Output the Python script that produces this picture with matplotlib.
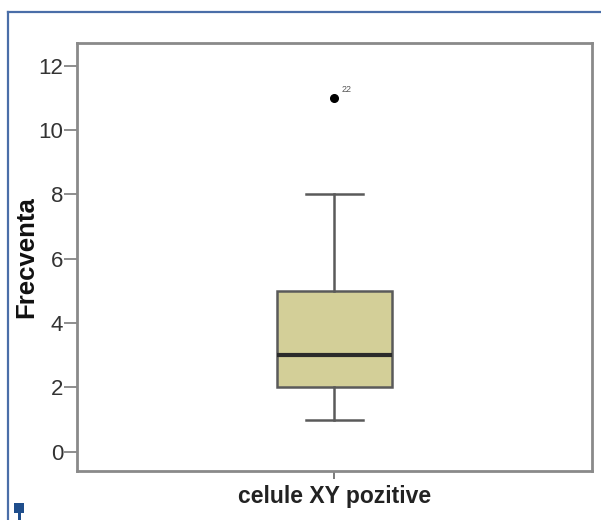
import matplotlib
matplotlib.use("Agg")
import matplotlib.pyplot as plt
from matplotlib.lines import Line2D
from matplotlib.patches import Rectangle

plt.rcParams['font.family'] = ['Liberation Sans', 'DejaVu Sans']

# box plot summary
category = "celule XY pozitive"
q1, median, q3 = 2, 3, 5
whisker_low, whisker_high = 1, 8
outliers = [11]
outlier_ids = ["22"]
y_ticks = [0, 2, 4, 6, 8, 10, 12]

stats = [dict(med=median, q1=q1, q3=q3, whislo=whisker_low,
              whishi=whisker_high, fliers=outliers, label=category)]

fig = plt.figure(figsize=(6.01, 5.2), dpi=100)
ax = fig.add_axes([0.128, 0.094, 0.857, 0.823])

gray = '#7a7a7a'
ax.bxp(stats, positions=[1], widths=0.225, patch_artist=True,
       boxprops=dict(facecolor='#d3cf98', edgecolor='#5a5a5a', linewidth=1.8),
       medianprops=dict(color='#2b2b2b', linewidth=3),
       whiskerprops=dict(color='#5a5a5a', linewidth=1.8),
       capprops=dict(color='#5a5a5a', linewidth=1.8),
       capwidths=0.11,
       flierprops=dict(marker='o', markerfacecolor='black',
                       markeredgecolor='black', markersize=5.5))

for val, lab in zip(outliers, outlier_ids):
    ax.annotate(lab, (1, val), xytext=(5, 4), textcoords='offset points',
                fontsize=6.5, color='#555555')

ax.set_xlim(0.5, 1.5)
ax.set_ylim(-0.6, 12.7)
ax.set_yticks(y_ticks)
ax.set_xticks([1])
ax.set_xticklabels([""])
ax.set_xlabel(category, fontsize=16.5, fontweight='bold', color='#222222', labelpad=1)
ax.set_ylabel("Frecventa", fontsize=18.5, fontweight='bold', color='#111111', labelpad=0)
ax.tick_params(axis='y', labelsize=16, labelcolor='#333333', color=gray,
               length=9.5, width=1.2, pad=0.5)
ax.tick_params(axis='x', color=gray, length=5.5, width=1.4)
for sp in ax.spines.values():
    sp.set_color('#8a8a8a')
    sp.set_linewidth(2)

# outer frame lines and small marker
blue = '#4a6ea8'
fig.add_artist(Line2D([8 / 601, 8 / 601], [0, 1 - 12 / 520], transform=fig.transFigure,
                      color=blue, linewidth=1.6))
fig.add_artist(Line2D([8 / 601, 1], [1 - 12 / 520, 1 - 12 / 520], transform=fig.transFigure,
                      color=blue, linewidth=1.6))
fig.add_artist(Rectangle((14 / 601, 7 / 520), 10 / 601, 10 / 520, transform=fig.transFigure,
                         facecolor='#1f4e8c', edgecolor='none'))
fig.add_artist(Rectangle((18 / 601, 0), 3 / 601, 8 / 520, transform=fig.transFigure,
                         facecolor='#1f4e8c', edgecolor='none'))

fig.savefig("out.png", dpi=100)
